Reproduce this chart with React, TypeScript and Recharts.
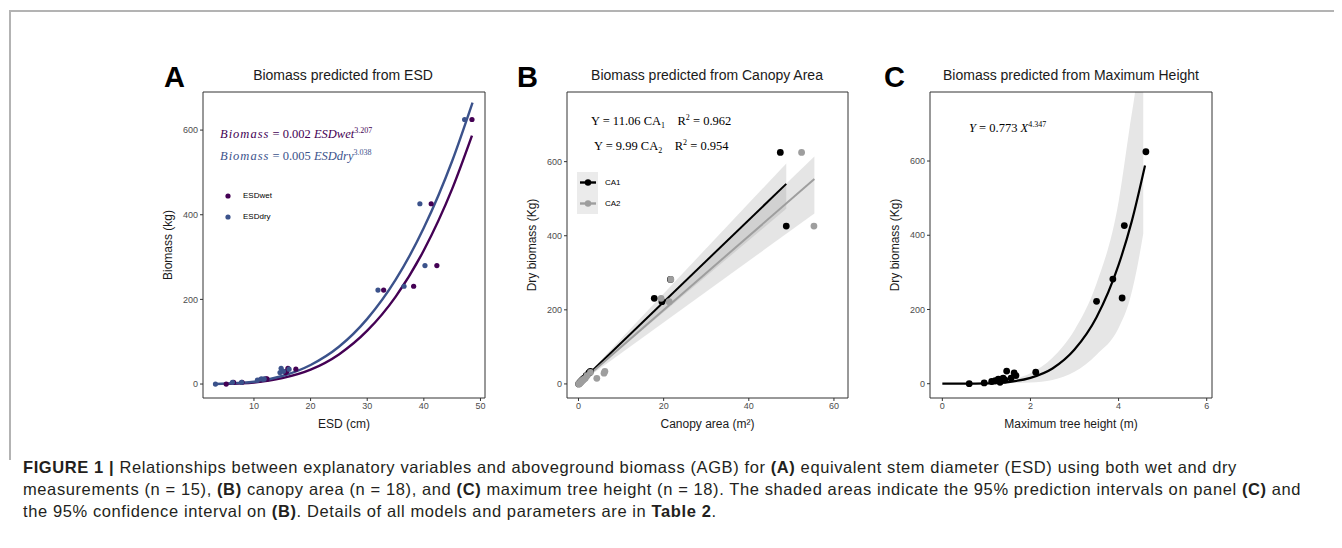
import React from "react";
import {
  ComposedChart,
  Scatter,
  Line,
  Area,
  XAxis,
  YAxis,
  ReferenceArea,
  Legend,
  Label,
} from "recharts";

// ---- panel A: biomass vs equivalent stem diameter (n = 15)
const biomassA = [0, 4, 4, 9, 12, 12, 27, 37, 30, 35, 222, 231, 426, 280, 625];
const esdWet = [5.1, 6.4, 7.9, 11.0, 12.1, 12.3, 15.6, 16.0, 15.8, 17.4, 32.9, 38.2, 41.3, 42.3, 48.5];
const esdDry = [3.2, 6.2, 7.8, 10.6, 11.3, 11.8, 14.6, 14.8, 15.2, 16.2, 31.9, 36.5, 39.3, 40.2, 47.2];
const wetFitX = [5, 10, 15, 20, 25, 30, 35, 40, 45, 48.5];
const wetFitY = [0.4, 3.7, 14, 34, 70, 126, 206, 316, 461, 587];
const dryFitX = [3.2, 10, 15, 20, 25, 30, 35, 40, 45, 48.6];
const dryFitY = [0.2, 5.5, 19, 45, 88, 154, 246, 369, 527, 665];
const legendOrderA = ["ESDwet", "ESDdry"];

// ---- panels B & C share the same 18 trees
const biomass = [0, 2, 6, 8, 12, 4, 15, 10, 34, 15, 29, 22, 31, 222, 282, 231, 426, 625];
const ca1 = [0.05, 0.2, 0.5, 0.7, 1.0, 0.4, 1.3, 0.9, 2.8, 1.4, 2.4, 1.8, 2.6, 19.6, 21.6, 17.8, 48.8, 47.4];
const ca2 = [0.05, 0.3, 0.6, 0.8, 1.2, 0.5, 4.3, 1.0, 6.2, 1.6, 6.0, 2.0, 2.8, 21.3, 21.7, 19.4, 55.3, 52.4];
const ca1FitX = [0, 48.8];
const ca1FitY = [0, 540];
const ca1Low = [0, 473];
const ca1High = [0, 595];
const ca2FitX = [0, 55.4];
const ca2FitY = [0, 553];
const ca2Low = [0, 460];
const ca2High = [0, 614];
const legendOrderB = ["CA1", "CA2"];

const heightM = [0.61, 0.95, 1.12, 1.2, 1.27, 1.31, 1.38, 1.42, 1.46, 1.56, 1.63, 1.67, 2.12, 3.5, 3.87, 4.08, 4.13, 4.62];
const hFitX = [0, 0.5, 1, 1.5, 2, 2.5, 3, 3.5, 4, 4.3, 4.6];
const hFitY = [0, 0.04, 0.8, 4.5, 15.7, 41, 92, 179, 320, 438, 588];
const hBandX = [0, 1, 1.5, 2, 2.5, 3, 3.5, 4, 4.25, 4.4, 4.56];
const hBandLow = [0, 0, 1, 3, 10, 32, 78, 150, 225, 300, 405];
const hBandHigh = [0, 2, 9, 28, 70, 145, 270, 490, 690, 810, 1000];

const yTicks = [0, 200, 400, 600];

const PURPLE = "#440154";
const BLUE = "#3b528b";
const GREY = "#9e9e9e";
const FRAME = "#333333";

const zip = (xs: number[], ys: number[]) => xs.map((x, i) => ({ x, y: ys[i] }));
const zipBand = (xs: number[], lo: number[], hi: number[]) =>
  xs.map((x, i) => ({ x, band: [lo[i], hi[i]] }));

const dot = (r: number, fill: string) => (p: any) =>
  <circle cx={p.cx} cy={p.cy} r={r} fill={fill} />;

const tick = { fontSize: 9, fill: "#4d4d4d" };
const titleStyle = { fontSize: 12, fill: "#1a1a1a" };
const axisCommon = {
  type: "number" as const,
  allowDataOverflow: true,
  tick,
  tickLine: { stroke: FRAME },
  tickSize: 3,
  axisLine: false,
  interval: 0 as const,
};

const ordered = (payload: any[], order: string[]) =>
  order.map((n) => payload.find((e: any) => e.value === n)).filter(Boolean);

function LegendA(props: any) {
  const items = ordered(props.payload || [], legendOrderA);
  return (
    <div>
      {items.map((e: any) => (
        <div key={e.value} style={{ display: "flex", alignItems: "center", height: 21, fontSize: 8 }}>
          <svg width={14} height={10}>
            <circle cx={7} cy={5} r={2.6} fill={e.color} />
          </svg>
          <span style={{ marginLeft: 8 }}>{e.value}</span>
        </div>
      ))}
    </div>
  );
}

function LegendB(props: any) {
  const items = ordered(props.payload || [], legendOrderB);
  return (
    <div>
      {items.map((e: any) => (
        <div key={e.value} style={{ display: "flex", alignItems: "center", height: 21, fontSize: 8 }}>
          <svg width={21} height={21}>
            <rect width={21} height={21} fill="#ebebeb" />
            <line x1={3} x2={19} y1={10.5} y2={10.5} stroke={e.color} strokeWidth={2.4} />
            <circle cx={11} cy={10.5} r={3.2} fill={e.color} />
          </svg>
          <span style={{ marginLeft: 7 }}>{e.value}</span>
        </div>
      ))}
    </div>
  );
}

const A_X: [number, number] = [1.0, 50.8];
const A_Y: [number, number] = [-33, 690];
const B_X: [number, number] = [-2.7, 63.3];
const B_Y: [number, number] = [-38, 788];
const C_X: [number, number] = [-0.28, 6.12];
const C_Y: [number, number] = [-38.5, 786];

function PanelA() {
  return (
    <ComposedChart width={347} height={351} margin={{ top: 5, right: 5, bottom: 0, left: 0 }}>
      <XAxis {...axisCommon} dataKey="x" domain={A_X} ticks={[10, 20, 30, 40, 50]} height={40}>
        <Label value="ESD (cm)" position="insideBottom" offset={10} style={titleStyle} />
      </XAxis>
      <YAxis {...axisCommon} domain={A_Y} ticks={yTicks} width={60}>
        <Label value="Biomass (kg)" angle={-90} position="insideLeft" offset={25} style={{ ...titleStyle, textAnchor: "middle" }} />
      </YAxis>
      <ReferenceArea x1={A_X[0]} x2={A_X[1]} y1={A_Y[0]} y2={A_Y[1]} fill="none" stroke={FRAME} ifOverflow="visible" />
      <Scatter name="ESDwet" data={zip(esdWet, biomassA)} dataKey="y" fill={PURPLE} shape={dot(2.6, PURPLE)} isAnimationActive={false} />
      <Scatter name="ESDdry" data={zip(esdDry, biomassA)} dataKey="y" fill={BLUE} shape={dot(2.6, BLUE)} isAnimationActive={false} />
      <Line data={zip(wetFitX, wetFitY)} dataKey="y" type="monotone" stroke={PURPLE} strokeWidth={2.4} dot={false} legendType="none" isAnimationActive={false} />
      <Line data={zip(dryFitX, dryFitY)} dataKey="y" type="monotone" stroke={BLUE} strokeWidth={2.4} dot={false} legendType="none" isAnimationActive={false} />
      <Legend layout="horizontal" verticalAlign="middle" align="center" wrapperStyle={{ left: 78, top: 98, width: 90 }} content={<LegendA />} />
    </ComposedChart>
  );
}

function PanelB() {
  return (
    <ComposedChart width={346} height={351} margin={{ top: 5, right: 5, bottom: 0, left: 0 }}>
      <XAxis {...axisCommon} dataKey="x" domain={B_X} ticks={[0, 20, 40, 60]} height={40}>
        <Label value="Canopy area (m²)" position="insideBottom" offset={10} style={titleStyle} />
      </XAxis>
      <YAxis {...axisCommon} domain={B_Y} ticks={yTicks} width={60}>
        <Label value="Dry biomass (Kg)" angle={-90} position="insideLeft" offset={25} style={{ ...titleStyle, textAnchor: "middle" }} />
      </YAxis>
      <ReferenceArea x1={B_X[0]} x2={B_X[1]} y1={B_Y[0]} y2={B_Y[1]} fill="none" stroke={FRAME} ifOverflow="visible" />
      <Area data={zipBand(ca1FitX, ca1Low, ca1High)} dataKey="band" type="linear" stroke="none" fill="#999999" fillOpacity={0.25} legendType="none" isAnimationActive={false} />
      <Area data={zipBand(ca2FitX, ca2Low, ca2High)} dataKey="band" type="linear" stroke="none" fill="#999999" fillOpacity={0.25} legendType="none" isAnimationActive={false} />
      <Scatter name="CA1" data={zip(ca1, biomass)} dataKey="y" fill="#000000" shape={dot(3.4, "#000000")} isAnimationActive={false} />
      <Scatter name="CA2" data={zip(ca2, biomass)} dataKey="y" fill={GREY} shape={dot(3.4, GREY)} isAnimationActive={false} />
      <Line data={zip(ca1FitX, ca1FitY)} dataKey="y" type="linear" stroke="#000000" strokeWidth={2} dot={false} legendType="none" isAnimationActive={false} />
      <Line data={zip(ca2FitX, ca2FitY)} dataKey="y" type="linear" stroke={GREY} strokeWidth={2} dot={false} legendType="none" isAnimationActive={false} />
      <Legend layout="horizontal" verticalAlign="middle" align="center" wrapperStyle={{ left: 70, top: 85, width: 80 }} content={<LegendB />} />
    </ComposedChart>
  );
}

function PanelC() {
  return (
    <ComposedChart width={347} height={351} margin={{ top: 5, right: 5, bottom: 0, left: 0 }}>
      <XAxis {...axisCommon} dataKey="x" domain={C_X} ticks={[0, 2, 4, 6]} height={40}>
        <Label value="Maximum tree height (m)" position="insideBottom" offset={10} style={titleStyle} />
      </XAxis>
      <YAxis {...axisCommon} domain={C_Y} ticks={yTicks} width={60}>
        <Label value="Dry biomass (Kg)" angle={-90} position="insideLeft" offset={25} style={{ ...titleStyle, textAnchor: "middle" }} />
      </YAxis>
      <Area data={zipBand(hBandX, hBandLow, hBandHigh)} dataKey="band" type="monotone" stroke="none" fill="#e6e6e6" fillOpacity={1} legendType="none" isAnimationActive={false} />
      <ReferenceArea x1={C_X[0]} x2={C_X[1]} y1={C_Y[0]} y2={C_Y[1]} fill="none" stroke={FRAME} ifOverflow="visible" />
      <Line data={zip(hFitX, hFitY)} dataKey="y" type="monotone" stroke="#000000" strokeWidth={2.2} dot={false} legendType="none" isAnimationActive={false} />
      <Scatter name="trees" data={zip(heightM, biomass)} dataKey="y" fill="#000000" shape={dot(3.4, "#000000")} isAnimationActive={false} />
    </ComposedChart>
  );
}

const letter: React.CSSProperties = { position: "absolute", fontSize: 29, fontWeight: 700, lineHeight: "29px" };
const title: React.CSSProperties = { position: "absolute", width: 300, textAlign: "center", fontSize: 14, lineHeight: "14px", color: "#1a1a1a" };
const eq: React.CSSProperties = { position: "absolute", fontFamily: "'Liberation Serif', serif", fontSize: 12.5, lineHeight: "14px", whiteSpace: "nowrap" };
const sup: React.CSSProperties = { fontSize: 8, verticalAlign: 5 };
const sub: React.CSSProperties = { fontSize: 8, verticalAlign: -3 };
const capLine: React.CSSProperties = { whiteSpace: "nowrap", height: 22 };

export default function App() {
  return (
    <div style={{ position: "relative", width: 1342, height: 548, margin: -8, background: "#fff", fontFamily: "'Liberation Sans', Arial, sans-serif", overflow: "hidden" }}>
      <div style={{ position: "absolute", left: 9, top: 10, right: 0, height: 1.5, background: "#b3b3b3" }} />
      <div style={{ position: "absolute", left: 9, top: 10, width: 1.5, height: 450, background: "#b3b3b3" }} />

      <div style={{ ...letter, left: 164, top: 63 }}>A</div>
      <div style={{ ...letter, left: 517, top: 63 }}>B</div>
      <div style={{ ...letter, left: 884, top: 63 }}>C</div>

      <div style={{ ...title, left: 343 - 150, top: 68 }}>Biomass predicted from ESD</div>
      <div style={{ ...title, left: 707 - 150, top: 68 }}>Biomass predicted from Canopy Area</div>
      <div style={{ ...title, left: 1071 - 150, top: 68 }}>Biomass predicted from Maximum Height</div>

      <div style={{ position: "absolute", left: 143, top: 87 }}><PanelA /></div>
      <div style={{ position: "absolute", left: 507, top: 87 }}><PanelB /></div>
      <div style={{ position: "absolute", left: 870, top: 87 }}><PanelC /></div>

      <div style={{ ...eq, left: 220, top: 124, color: PURPLE }}>
        <i style={{ letterSpacing: 1 }}>Biomass</i> = 0.002 <i>ESDwet</i><span style={sup}>3.207</span>
      </div>
      <div style={{ ...eq, left: 220, top: 146, color: BLUE }}>
        <i style={{ letterSpacing: 1 }}>Biomass</i> = 0.005 <i>ESDdry</i><span style={sup}>3.038</span>
      </div>
      <div style={{ ...eq, left: 591, top: 111 }}>
        Y = 11.06 CA<span style={sub}>1</span>&nbsp;&nbsp;&nbsp; R<span style={sup}>2</span> = 0.962
      </div>
      <div style={{ ...eq, left: 594, top: 136 }}>
        Y = 9.99 CA<span style={sub}>2</span>&nbsp;&nbsp;&nbsp; R<span style={sup}>2</span> = 0.954
      </div>
      <div style={{ ...eq, left: 969, top: 118 }}>
        <i>Y</i> = 0.773 <i>X</i><span style={sup}>4.347</span>
      </div>

      <div style={{ position: "absolute", left: 23, top: 456, fontSize: 16.5, letterSpacing: 0.6, lineHeight: "22px", color: "#231f20" }}>
        <div style={capLine}>
          <b>FIGURE 1 |</b> Relationships between explanatory variables and aboveground biomass (AGB) for <b>(A)</b> equivalent stem diameter (ESD) using both wet and dry
        </div>
        <div style={capLine}>
          measurements (n = 15), <b>(B)</b> canopy area (n = 18), and <b>(C)</b> maximum tree height (n = 18). The shaded areas indicate the 95% prediction intervals on panel <b>(C)</b> and
        </div>
        <div style={capLine}>
          the 95% confidence interval on <b>(B)</b>. Details of all models and parameters are in <b>Table 2</b>.
        </div>
      </div>
    </div>
  );
}
